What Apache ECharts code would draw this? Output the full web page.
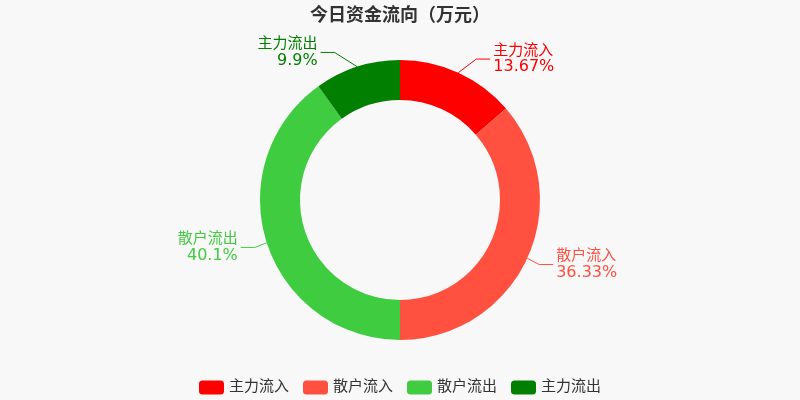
<!DOCTYPE html>
<html><head><meta charset="utf-8">
<script src="https://cdn.jsdelivr.net/npm/echarts@6/dist/echarts.min.js"></script>
<style>html,body{margin:0;padding:0;background:#f8f8f8}#c{width:800px;height:400px}</style>
</head><body><div id="c"></div>
<script>
const categories = ['主力流入', '散户流入', '散户流出', '主力流出'];
const values = [13.67, 36.33, 40.1, 9.9];
const colors = ['#ff0000', '#ff5040', '#40cc40', '#007f00'];
const FF = "'DejaVu Sans', 'Noto Sans CJK SC', sans-serif";
const INNER = 100, OUTER = 140, LEN = 15, LEN2 = 14;

const chart = echarts.init(document.getElementById('c'));

// Classic label placement: label text sits on a circle of radius OUTER+LEN+LEN2,
// keeping the radial height of the label line's elbow.
function classicLayout(p) {
  const pts = p.labelLinePoints;
  if (!pts) return {};
  const cx = chart.getWidth() / 2, cy = chart.getHeight() / 2;
  const R = OUTER + LEN + LEN2;
  const y = pts[1][1];
  const dir = pts[1][0] < cx ? -1 : 1;
  const dy = y - cy;
  const dx = Math.sqrt(Math.max(R * R - dy * dy, 0));
  const x = cx + dir * dx;
  const p2x = x - dir * 3;
  const p1x = p2x - dir * LEN2;
  return {
    x: x, y: y,
    align: dir > 0 ? 'left' : 'right',
    verticalAlign: 'middle',
    labelLinePoints: [pts[0], [p1x, y], [p2x, y]]
  };
}

chart.setOption({
  backgroundColor: '#f8f8f8',
  color: colors,
  textStyle: { fontFamily: FF },
  title: {
    text: '今日资金流向（万元）',
    left: 'center', top: 2,
    textStyle: { fontSize: 18, fontWeight: 'bold', color: '#333', fontFamily: FF }
  },
  legend: {
    bottom: 0, left: 'center',
    icon: 'roundRect', itemWidth: 25, itemHeight: 14, itemGap: 14,
    textStyle: { fontSize: 15, color: '#333', fontFamily: FF },
    data: categories
  },
  series: [{
    type: 'pie',
    center: ['50%', '50%'],
    radius: [INNER, OUTER],
    startAngle: 90,
    avoidLabelOverlap: false,
    label: {
      formatter: '{n|{b}}\n{p|{c}%}',
      fontFamily: FF,
      rich: {
        n: { fontSize: 15, lineHeight: 16, fontFamily: FF },
        p: { fontSize: 16, lineHeight: 16, fontFamily: FF }
      },
      color: 'inherit'
    },
    labelLine: { length: LEN, length2: LEN2 },
    labelLayout: classicLayout,
    data: categories.map((n, i) => ({ name: n, value: values[i] }))
  }]
});
</script></body></html>
